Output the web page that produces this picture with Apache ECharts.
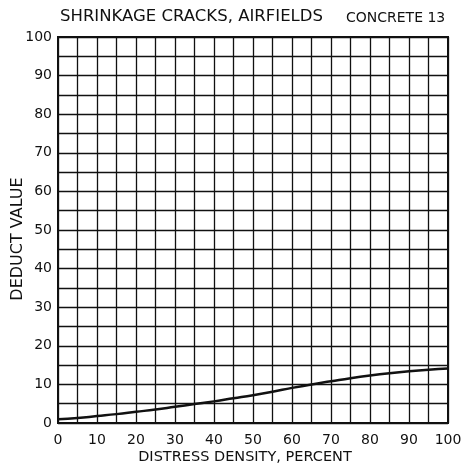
<!DOCTYPE html>
<html><head><meta charset="utf-8">
<script src="https://cdn.jsdelivr.net/npm/echarts@6/dist/echarts.min.js"></script>
<style>html,body{margin:0;padding:0;background:#fff}#c{width:467px;height:466px}</style>
</head><body><div id="c"></div>
<script>
const density = [0,5,10,15,20,25,30,35,40,45,50,55,60,65,70,75,80,85,90,95,100];
const deduct  = [1,1.3,1.8,2.3,2.9,3.5,4.2,4.9,5.6,6.4,7.2,8.1,9.1,10,10.8,11.6,12.3,12.9,13.4,13.8,14.1];
const title = "SHRINKAGE CRACKS, AIRFIELDS";
const subtitle = "CONCRETE 13";
const xName = "DISTRESS DENSITY, PERCENT";
const yName = "DEDUCT VALUE";

const font = "DejaVu Sans";
const chart = echarts.init(document.getElementById('c'));
chart.setOption({
  animation:false,
  backgroundColor:'#fff',
  textStyle:{fontFamily:font,color:'#111'},
  graphic:[
    {type:'text',left:60,top:8,style:{text:title,font:'16.5px "'+font+'"',fill:'#111'}},
    {type:'text',left:346,top:11,style:{text:subtitle,font:'14px "'+font+'"',fill:'#111'}}
  ],
  grid:{left:58,right:19,top:37,bottom:43,show:true,borderColor:'#111',borderWidth:2,
    containLabel:false,outerBoundsMode:'none'},
  xAxis:{type:'value',min:0,max:100,interval:5,
    name:xName,nameLocation:'middle',nameGap:27,nameMoveOverlap:false,
    nameTextStyle:{fontSize:14.5,color:'#111',fontFamily:font,padding:[0,16,0,0]},
    axisLine:{show:false},axisTick:{show:false},
    axisLabel:{color:'#111',fontSize:14,margin:10,fontFamily:font,
      formatter:v=>v%10===0?String(v):''},
    splitLine:{show:true,lineStyle:{color:'#111',width:1.3}}},
  yAxis:{type:'value',min:0,max:100,interval:5,
    name:yName,nameLocation:'middle',nameGap:32,nameMoveOverlap:false,
    nameTextStyle:{fontSize:16,color:'#111',fontFamily:font,padding:[0,18,0,0]},
    axisLine:{show:false},axisTick:{show:false},
    axisLabel:{color:'#111',fontSize:14,margin:6,fontFamily:font,
      formatter:v=>v%10===0?String(v):''},
    splitLine:{show:true,lineStyle:{color:'#111',width:1.3}}},
  series:[{type:'line',data:density.map((d,i)=>[d,deduct[i]]),smooth:true,
    symbol:'none',lineStyle:{color:'#111',width:2.5}}]
});
</script></body></html>
